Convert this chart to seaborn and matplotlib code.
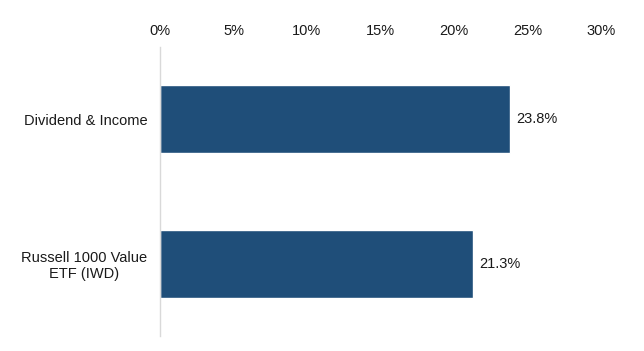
import pandas as pd
import matplotlib.pyplot as plt
import seaborn as sns
from matplotlib.ticker import PercentFormatter

sns.set_theme(style="white")
plt.rcParams["font.family"] = ["Liberation Sans", "DejaVu Sans"]

categories = ["Dividend & Income", "Russell 1000 Value\nETF (IWD)"]
returns = [23.8, 21.3]
bar_color = "#1f4e79"

df = pd.DataFrame({"name": categories, "ret": returns})

fig = plt.figure(figsize=(6.44, 3.51), dpi=100)
ax = fig.add_axes([0.2484, 0.0427, 0.6848, 0.8233])

sns.barplot(data=df, x="ret", y="name", orient="h", color=bar_color,
            width=0.47, saturation=1, ax=ax)

for p, v in zip(ax.patches, returns):
    ax.text(v + 0.45, p.get_y() + p.get_height() / 2, f"{v:.1f}%",
            va="center", ha="left", fontsize=10.5, color="#1a1a1a")

ax.set_xlim(0, 30)
ax.set_ylim(1.5, -0.5)
ax.set_xticks(range(0, 31, 5))
ax.xaxis.set_major_formatter(PercentFormatter(decimals=0))
ax.xaxis.tick_top()
ax.tick_params(axis="x", length=0, pad=6.5, labelsize=10.5, colors="#1a1a1a")
ax.tick_params(axis="y", length=0, pad=9, labelsize=10.5, colors="#1a1a1a")
for lbl in ax.get_yticklabels():
    lbl.set_multialignment("center")
ax.set_xlabel("")
ax.set_ylabel("")

for s in ["top", "right", "bottom"]:
    ax.spines[s].set_visible(False)
ax.spines["left"].set_color("#d9d9d9")
ax.spines["left"].set_linewidth(1)

fig.savefig("out.png", dpi=100, facecolor="white")
